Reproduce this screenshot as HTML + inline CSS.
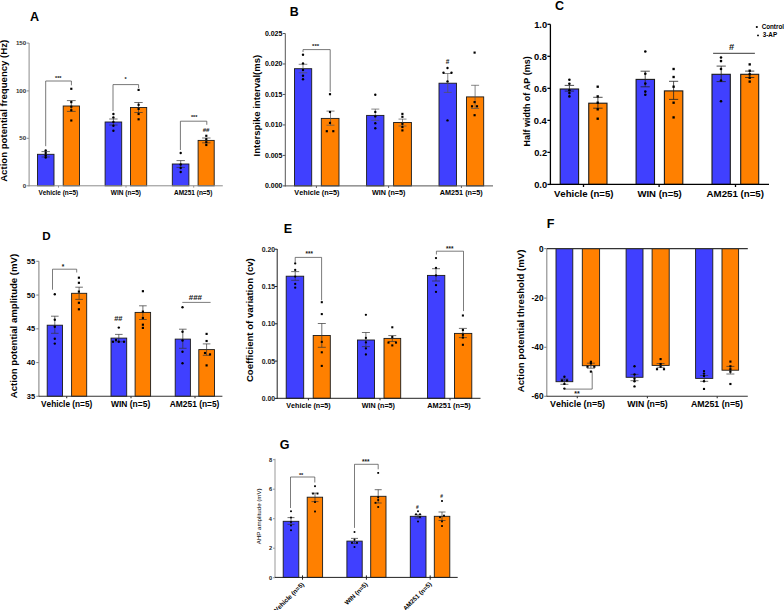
<!DOCTYPE html>
<html><head><meta charset="utf-8"><style>
html,body{margin:0;padding:0;background:#fff;}
svg{display:block;font-family:"Liberation Sans", sans-serif;font-kerning:none;}
</style></head><body>
<svg width="784" height="610" viewBox="0 0 784 610">
<rect width="784" height="610" fill="#fff"/>
<rect x="37.5" y="154.3" width="16.5" height="31.5" fill="#4040ff" stroke="#1a1a1a" stroke-width="0.9"/>
<rect x="63.2" y="106" width="16.3" height="79.8" fill="#ff8000" stroke="#1a1a1a" stroke-width="0.9"/>
<rect x="105.1" y="122" width="16.6" height="63.8" fill="#4040ff" stroke="#1a1a1a" stroke-width="0.9"/>
<rect x="130.5" y="107.5" width="16.2" height="78.3" fill="#ff8000" stroke="#1a1a1a" stroke-width="0.9"/>
<rect x="172.3" y="164" width="16.6" height="21.8" fill="#4040ff" stroke="#1a1a1a" stroke-width="0.9"/>
<rect x="198.1" y="140.4" width="16.1" height="45.4" fill="#ff8000" stroke="#1a1a1a" stroke-width="0.9"/>
<line x1="45.7" y1="151.6" x2="45.7" y2="157" stroke="#333" stroke-width="0.7"/>
<line x1="41.5" y1="151.6" x2="49.9" y2="151.6" stroke="#333" stroke-width="0.7"/>
<line x1="41.5" y1="157" x2="49.9" y2="157" stroke="#333" stroke-width="0.7"/>
<line x1="71.3" y1="100.6" x2="71.3" y2="111.4" stroke="#333" stroke-width="0.7"/>
<line x1="66.9" y1="100.6" x2="75.7" y2="100.6" stroke="#333" stroke-width="0.7"/>
<line x1="66.9" y1="111.4" x2="75.7" y2="111.4" stroke="#333" stroke-width="0.7"/>
<line x1="113.4" y1="119" x2="113.4" y2="125" stroke="#333" stroke-width="0.7"/>
<line x1="109.2" y1="119" x2="117.6" y2="119" stroke="#333" stroke-width="0.7"/>
<line x1="109.2" y1="125" x2="117.6" y2="125" stroke="#333" stroke-width="0.7"/>
<line x1="138.5" y1="102.5" x2="138.5" y2="112.5" stroke="#333" stroke-width="0.7"/>
<line x1="134.3" y1="102.5" x2="142.7" y2="102.5" stroke="#333" stroke-width="0.7"/>
<line x1="134.3" y1="112.5" x2="142.7" y2="112.5" stroke="#333" stroke-width="0.7"/>
<line x1="180.7" y1="160.6" x2="180.7" y2="167.4" stroke="#333" stroke-width="0.7"/>
<line x1="176.5" y1="160.6" x2="184.9" y2="160.6" stroke="#333" stroke-width="0.7"/>
<line x1="176.5" y1="167.4" x2="184.9" y2="167.4" stroke="#333" stroke-width="0.7"/>
<line x1="206.3" y1="138" x2="206.3" y2="142.8" stroke="#333" stroke-width="0.7"/>
<line x1="202.1" y1="138" x2="210.5" y2="138" stroke="#333" stroke-width="0.7"/>
<line x1="202.1" y1="142.8" x2="210.5" y2="142.8" stroke="#333" stroke-width="0.7"/>
<circle cx="45.7" cy="150.5" r="1.2" fill="#000"/>
<circle cx="45.7" cy="153" r="1.2" fill="#000"/>
<circle cx="45.7" cy="155.5" r="1.2" fill="#000"/>
<circle cx="45.7" cy="157.5" r="1.2" fill="#000"/>
<rect x="70.22" y="87.72" width="2.16" height="2.16" fill="#000"/>
<rect x="70.22" y="101.02" width="2.16" height="2.16" fill="#000"/>
<rect x="70.22" y="105.62" width="2.16" height="2.16" fill="#000"/>
<rect x="70.22" y="109.12" width="2.16" height="2.16" fill="#000"/>
<rect x="70.22" y="119.42" width="2.16" height="2.16" fill="#000"/>
<circle cx="113.4" cy="114" r="1.2" fill="#000"/>
<circle cx="113.4" cy="117.5" r="1.2" fill="#000"/>
<circle cx="113.4" cy="121.9" r="1.2" fill="#000"/>
<circle cx="113.4" cy="125.8" r="1.2" fill="#000"/>
<circle cx="113.4" cy="130.7" r="1.2" fill="#000"/>
<rect x="137.52" y="88.82" width="2.16" height="2.16" fill="#000"/>
<rect x="137.52" y="103.72" width="2.16" height="2.16" fill="#000"/>
<rect x="137.52" y="107.82" width="2.16" height="2.16" fill="#000"/>
<rect x="137.52" y="112.92" width="2.16" height="2.16" fill="#000"/>
<rect x="137.52" y="118.22" width="2.16" height="2.16" fill="#000"/>
<circle cx="180.7" cy="153" r="1.2" fill="#000"/>
<circle cx="180.7" cy="164.5" r="1.2" fill="#000"/>
<circle cx="180.7" cy="168" r="1.2" fill="#000"/>
<circle cx="180.7" cy="172" r="1.2" fill="#000"/>
<rect x="205.22" y="134.72" width="2.16" height="2.16" fill="#000"/>
<rect x="205.22" y="138.12" width="2.16" height="2.16" fill="#000"/>
<rect x="205.22" y="141.12" width="2.16" height="2.16" fill="#000"/>
<rect x="205.22" y="143.92" width="2.16" height="2.16" fill="#000"/>
<line x1="29.1" y1="43" x2="29.1" y2="186.3" stroke="#8c8c8c" stroke-width="1"/>
<line x1="28.6" y1="185.8" x2="222.8" y2="185.8" stroke="#8c8c8c" stroke-width="1"/>
<line x1="26.6" y1="185.8" x2="29.1" y2="185.8" stroke="#8c8c8c" stroke-width="1"/>
<text x="22.81" y="187.96" font-size="6.2" font-weight="bold" fill="#333">0</text>
<line x1="26.6" y1="138.3" x2="29.1" y2="138.3" stroke="#8c8c8c" stroke-width="1"/>
<text x="19.36" y="140.46" font-size="6.2" font-weight="bold" fill="#333">50</text>
<line x1="26.6" y1="90.9" x2="29.1" y2="90.9" stroke="#8c8c8c" stroke-width="1"/>
<text x="15.91" y="93.06" font-size="6.2" font-weight="bold" fill="#333">100</text>
<line x1="26.6" y1="43.1" x2="29.1" y2="43.1" stroke="#8c8c8c" stroke-width="1"/>
<text x="15.91" y="45.26" font-size="6.2" font-weight="bold" fill="#333">150</text>
<line x1="58.5" y1="185.8" x2="58.5" y2="187.6" stroke="#8c8c8c" stroke-width="1"/>
<line x1="126" y1="185.8" x2="126" y2="187.6" stroke="#8c8c8c" stroke-width="1"/>
<line x1="193.7" y1="185.8" x2="193.7" y2="187.6" stroke="#8c8c8c" stroke-width="1"/>
<text x="38.46" y="194.7" font-size="6.3" font-weight="bold" fill="#000" textLength="39.76" lengthAdjust="spacingAndGlyphs">Vehicle (n=5)</text>
<text x="110.89" y="194.7" font-size="6.3" font-weight="bold" fill="#000" textLength="30.12" lengthAdjust="spacingAndGlyphs">WIN (n=5)</text>
<text x="174.04" y="194.7" font-size="6.3" font-weight="bold" fill="#000" textLength="38.37" lengthAdjust="spacingAndGlyphs">AM251 (n=5)</text>
<text x="0" y="0" transform="translate(7.2 181.84) rotate(-90)" font-size="9.6" font-weight="bold" fill="#000" textLength="142.12" lengthAdjust="spacingAndGlyphs">Action potential frequency (Hz)</text>
<polyline points="45.7,146.2 45.7,81 71.4,81 71.4,85.3" fill="none" stroke="#555" stroke-width="0.8"/>
<polyline points="113,111 113,84.6 138.6,84.6 138.6,88" fill="none" stroke="#555" stroke-width="0.8"/>
<polyline points="180.4,150 180.4,121.2 206.8,121.2 206.8,124.8" fill="none" stroke="#555" stroke-width="0.8"/>
<text x="55.08" y="79.89" font-size="5.5" font-weight="bold" fill="#111">***</text>
<text x="124.62" y="80.59" font-size="5.5" font-weight="bold" fill="#111">*</text>
<text x="190.98" y="119.49" font-size="5.5" font-weight="bold" fill="#111">***</text>
<text x="202.65" y="131.51" font-size="6.2" font-weight="bold" fill="#111">##</text>
<text x="29.99" y="21.2" font-size="12.6" font-weight="bold" fill="#000">A</text>
<rect x="294.5" y="68.7" width="17.2" height="117.2" fill="#4040ff" stroke="#1a1a1a" stroke-width="0.9"/>
<rect x="321.3" y="118.4" width="17.7" height="67.5" fill="#ff8000" stroke="#1a1a1a" stroke-width="0.9"/>
<rect x="366.6" y="115.4" width="17.3" height="70.5" fill="#4040ff" stroke="#1a1a1a" stroke-width="0.9"/>
<rect x="393.6" y="122.5" width="17.8" height="63.4" fill="#ff8000" stroke="#1a1a1a" stroke-width="0.9"/>
<rect x="439" y="83.2" width="17.5" height="102.7" fill="#4040ff" stroke="#1a1a1a" stroke-width="0.9"/>
<rect x="466.5" y="96.9" width="17.2" height="89" fill="#ff8000" stroke="#1a1a1a" stroke-width="0.9"/>
<line x1="303" y1="64.3" x2="303" y2="72.8" stroke="#555" stroke-width="0.7"/>
<line x1="298.7" y1="64.3" x2="307.3" y2="64.3" stroke="#555" stroke-width="0.7"/>
<line x1="298.7" y1="72.8" x2="307.3" y2="72.8" stroke="#555" stroke-width="0.7"/>
<line x1="330.5" y1="111.1" x2="330.5" y2="125.2" stroke="#555" stroke-width="0.7"/>
<line x1="326.5" y1="111.1" x2="334.5" y2="111.1" stroke="#555" stroke-width="0.7"/>
<line x1="326.5" y1="125.2" x2="334.5" y2="125.2" stroke="#555" stroke-width="0.7"/>
<line x1="375.3" y1="109.1" x2="375.3" y2="120.3" stroke="#555" stroke-width="0.7"/>
<line x1="371.3" y1="109.1" x2="379.3" y2="109.1" stroke="#555" stroke-width="0.7"/>
<line x1="371.3" y1="120.3" x2="379.3" y2="120.3" stroke="#555" stroke-width="0.7"/>
<line x1="402.5" y1="119.1" x2="402.5" y2="126" stroke="#555" stroke-width="0.7"/>
<line x1="398.5" y1="119.1" x2="406.5" y2="119.1" stroke="#555" stroke-width="0.7"/>
<line x1="398.5" y1="126" x2="406.5" y2="126" stroke="#555" stroke-width="0.7"/>
<line x1="447.75" y1="73.5" x2="447.75" y2="92.4" stroke="#555" stroke-width="0.7"/>
<line x1="443.75" y1="73.5" x2="451.75" y2="73.5" stroke="#555" stroke-width="0.7"/>
<line x1="443.75" y1="92.4" x2="451.75" y2="92.4" stroke="#555" stroke-width="0.7"/>
<line x1="475.1" y1="85.3" x2="475.1" y2="108.5" stroke="#555" stroke-width="0.7"/>
<line x1="471.1" y1="85.3" x2="479.1" y2="85.3" stroke="#555" stroke-width="0.7"/>
<line x1="471.1" y1="108.5" x2="479.1" y2="108.5" stroke="#555" stroke-width="0.7"/>
<circle cx="303" cy="54.8" r="1.2" fill="#000"/>
<circle cx="303" cy="63.4" r="1.2" fill="#000"/>
<circle cx="303" cy="69.9" r="1.2" fill="#000"/>
<circle cx="303" cy="75.7" r="1.2" fill="#000"/>
<circle cx="303" cy="79.2" r="1.2" fill="#000"/>
<rect x="328.92" y="93.12" width="2.16" height="2.16" fill="#000"/>
<rect x="328.92" y="110.92" width="2.16" height="2.16" fill="#000"/>
<rect x="328.92" y="121.82" width="2.16" height="2.16" fill="#000"/>
<rect x="325.72" y="130.12" width="2.16" height="2.16" fill="#000"/>
<rect x="332.22" y="130.12" width="2.16" height="2.16" fill="#000"/>
<circle cx="375.3" cy="94.8" r="1.2" fill="#000"/>
<circle cx="375.3" cy="111.9" r="1.2" fill="#000"/>
<circle cx="375.3" cy="116.4" r="1.2" fill="#000"/>
<circle cx="375.3" cy="123.3" r="1.2" fill="#000"/>
<circle cx="375.3" cy="128.2" r="1.2" fill="#000"/>
<rect x="401.32" y="112.82" width="2.16" height="2.16" fill="#000"/>
<rect x="401.32" y="115.72" width="2.16" height="2.16" fill="#000"/>
<rect x="401.32" y="122.72" width="2.16" height="2.16" fill="#000"/>
<rect x="401.32" y="125.92" width="2.16" height="2.16" fill="#000"/>
<rect x="401.32" y="129.32" width="2.16" height="2.16" fill="#000"/>
<circle cx="447.5" cy="68" r="1.2" fill="#000"/>
<circle cx="443.5" cy="72.7" r="1.2" fill="#000"/>
<circle cx="451.5" cy="72.7" r="1.2" fill="#000"/>
<circle cx="447.5" cy="81.4" r="1.2" fill="#000"/>
<circle cx="447.5" cy="120.4" r="1.2" fill="#000"/>
<rect x="473.52" y="51.52" width="2.16" height="2.16" fill="#000"/>
<rect x="473.52" y="101.02" width="2.16" height="2.16" fill="#000"/>
<rect x="470.92" y="105.22" width="2.16" height="2.16" fill="#000"/>
<rect x="475.92" y="105.22" width="2.16" height="2.16" fill="#000"/>
<rect x="473.52" y="114.12" width="2.16" height="2.16" fill="#000"/>
<line x1="285.3" y1="33.5" x2="285.3" y2="186.4" stroke="#555" stroke-width="1"/>
<line x1="284.8" y1="185.9" x2="493" y2="185.9" stroke="#555" stroke-width="1"/>
<line x1="282.8" y1="185.9" x2="285.3" y2="185.9" stroke="#555" stroke-width="1"/>
<text x="264.97" y="188.34" font-size="7" font-weight="bold" fill="#000">0.000</text>
<line x1="282.8" y1="155.42" x2="285.3" y2="155.42" stroke="#555" stroke-width="1"/>
<text x="264.88" y="157.86" font-size="7" font-weight="bold" fill="#000">0.005</text>
<line x1="282.8" y1="124.94" x2="285.3" y2="124.94" stroke="#555" stroke-width="1"/>
<text x="264.97" y="127.38" font-size="7" font-weight="bold" fill="#000">0.010</text>
<line x1="282.8" y1="94.46" x2="285.3" y2="94.46" stroke="#555" stroke-width="1"/>
<text x="264.88" y="96.9" font-size="7" font-weight="bold" fill="#000">0.015</text>
<line x1="282.8" y1="63.98" x2="285.3" y2="63.98" stroke="#555" stroke-width="1"/>
<text x="264.97" y="66.42" font-size="7" font-weight="bold" fill="#000">0.020</text>
<line x1="282.8" y1="33.5" x2="285.3" y2="33.5" stroke="#555" stroke-width="1"/>
<text x="264.88" y="35.94" font-size="7" font-weight="bold" fill="#000">0.025</text>
<line x1="316.4" y1="185.9" x2="316.4" y2="187.9" stroke="#555" stroke-width="1"/>
<line x1="388.6" y1="185.9" x2="388.6" y2="187.9" stroke="#555" stroke-width="1"/>
<line x1="461.4" y1="185.9" x2="461.4" y2="187.9" stroke="#555" stroke-width="1"/>
<text x="294.35" y="194.7" font-size="7.2" font-weight="bold" fill="#000" textLength="45.01" lengthAdjust="spacingAndGlyphs">Vehicle (n=5)</text>
<text x="372.09" y="194.7" font-size="7.2" font-weight="bold" fill="#000" textLength="33.27" lengthAdjust="spacingAndGlyphs">WIN (n=5)</text>
<text x="439.82" y="194.7" font-size="7.2" font-weight="bold" fill="#000" textLength="42.84" lengthAdjust="spacingAndGlyphs">AM251 (n=5)</text>
<text x="0" y="0" transform="translate(259.5 156.44) rotate(-90)" font-size="9.5" font-weight="bold" fill="#000" textLength="101.61" lengthAdjust="spacingAndGlyphs">Interspike interval(ms)</text>
<polyline points="303,52 303,49.6 330.2,49.6 330.2,91.8" fill="none" stroke="#555" stroke-width="0.8"/>
<text x="312.09" y="48.06" font-size="6" font-weight="bold" fill="#111">***</text>
<text x="445.69" y="63.71" font-size="6.5" font-weight="bold" fill="#111">#</text>
<text x="289.67" y="16.4" font-size="12.4" font-weight="bold" fill="#000">B</text>
<rect x="560.2" y="89" width="18.4" height="95.4" fill="#4040ff" stroke="#1a1a1a" stroke-width="1.1"/>
<rect x="588.75" y="103.2" width="18.25" height="81.2" fill="#ff8000" stroke="#1a1a1a" stroke-width="1.1"/>
<rect x="636.1" y="79.4" width="18.4" height="105" fill="#4040ff" stroke="#1a1a1a" stroke-width="1.1"/>
<rect x="664.4" y="90.9" width="18.4" height="93.5" fill="#ff8000" stroke="#1a1a1a" stroke-width="1.1"/>
<rect x="712" y="74.3" width="18.3" height="110.1" fill="#4040ff" stroke="#1a1a1a" stroke-width="1.1"/>
<rect x="740.7" y="74.3" width="18" height="110.1" fill="#ff8000" stroke="#1a1a1a" stroke-width="1.1"/>
<line x1="569.4" y1="85.4" x2="569.4" y2="91.1" stroke="#222" stroke-width="0.8"/>
<line x1="564.7" y1="85.4" x2="574.1" y2="85.4" stroke="#222" stroke-width="0.8"/>
<line x1="564.7" y1="91.1" x2="574.1" y2="91.1" stroke="#222" stroke-width="0.8"/>
<line x1="597.9" y1="97.3" x2="597.9" y2="108.2" stroke="#222" stroke-width="0.8"/>
<line x1="593.2" y1="97.3" x2="602.6" y2="97.3" stroke="#222" stroke-width="0.8"/>
<line x1="593.2" y1="108.2" x2="602.6" y2="108.2" stroke="#222" stroke-width="0.8"/>
<line x1="645.2" y1="71.2" x2="645.2" y2="86.8" stroke="#222" stroke-width="0.8"/>
<line x1="640.6" y1="71.2" x2="649.8" y2="71.2" stroke="#222" stroke-width="0.8"/>
<line x1="640.6" y1="86.8" x2="649.8" y2="86.8" stroke="#222" stroke-width="0.8"/>
<line x1="673.6" y1="81.3" x2="673.6" y2="99.4" stroke="#222" stroke-width="0.8"/>
<line x1="669" y1="81.3" x2="678.2" y2="81.3" stroke="#222" stroke-width="0.8"/>
<line x1="669" y1="99.4" x2="678.2" y2="99.4" stroke="#222" stroke-width="0.8"/>
<line x1="721.2" y1="66.1" x2="721.2" y2="81.6" stroke="#222" stroke-width="0.8"/>
<line x1="716.6" y1="66.1" x2="725.8" y2="66.1" stroke="#222" stroke-width="0.8"/>
<line x1="716.6" y1="81.6" x2="725.8" y2="81.6" stroke="#222" stroke-width="0.8"/>
<line x1="749.7" y1="71.1" x2="749.7" y2="77.5" stroke="#222" stroke-width="0.8"/>
<line x1="745.1" y1="71.1" x2="754.3" y2="71.1" stroke="#222" stroke-width="0.8"/>
<line x1="745.1" y1="77.5" x2="754.3" y2="77.5" stroke="#222" stroke-width="0.8"/>
<circle cx="569.4" cy="79.8" r="1.3" fill="#000"/>
<circle cx="569.4" cy="83.8" r="1.3" fill="#000"/>
<circle cx="569.4" cy="90.2" r="1.3" fill="#000"/>
<circle cx="569.4" cy="93.1" r="1.3" fill="#000"/>
<circle cx="569.4" cy="96.4" r="1.3" fill="#000"/>
<rect x="596.53" y="85.53" width="2.34" height="2.34" fill="#000"/>
<rect x="596.53" y="95.23" width="2.34" height="2.34" fill="#000"/>
<rect x="596.53" y="101.53" width="2.34" height="2.34" fill="#000"/>
<rect x="596.53" y="108.13" width="2.34" height="2.34" fill="#000"/>
<rect x="596.53" y="117.53" width="2.34" height="2.34" fill="#000"/>
<circle cx="645.3" cy="51.5" r="1.3" fill="#000"/>
<circle cx="645.3" cy="73.8" r="1.3" fill="#000"/>
<circle cx="645.3" cy="83.6" r="1.3" fill="#000"/>
<circle cx="645.3" cy="91.6" r="1.3" fill="#000"/>
<circle cx="645.3" cy="94.8" r="1.3" fill="#000"/>
<rect x="672.43" y="67.83" width="2.34" height="2.34" fill="#000"/>
<rect x="672.43" y="75.83" width="2.34" height="2.34" fill="#000"/>
<rect x="672.43" y="85.53" width="2.34" height="2.34" fill="#000"/>
<rect x="672.43" y="101.53" width="2.34" height="2.34" fill="#000"/>
<rect x="672.43" y="116.23" width="2.34" height="2.34" fill="#000"/>
<circle cx="721" cy="57.5" r="1.3" fill="#000"/>
<circle cx="721" cy="61.1" r="1.3" fill="#000"/>
<circle cx="721" cy="69" r="1.3" fill="#000"/>
<circle cx="721" cy="80.5" r="1.3" fill="#000"/>
<circle cx="721" cy="101.3" r="1.3" fill="#000"/>
<rect x="748.53" y="63.23" width="2.34" height="2.34" fill="#000"/>
<rect x="748.53" y="69.53" width="2.34" height="2.34" fill="#000"/>
<rect x="748.53" y="73.13" width="2.34" height="2.34" fill="#000"/>
<rect x="748.53" y="76.63" width="2.34" height="2.34" fill="#000"/>
<rect x="748.53" y="80.43" width="2.34" height="2.34" fill="#000"/>
<line x1="550.4" y1="24.3" x2="550.4" y2="185.05" stroke="#000" stroke-width="1.3"/>
<line x1="549.75" y1="184.4" x2="769" y2="184.4" stroke="#000" stroke-width="1.3"/>
<line x1="547.4" y1="184.4" x2="550.4" y2="184.4" stroke="#000" stroke-width="1.3"/>
<text x="534.15" y="187.65" font-size="9.3" font-weight="bold" fill="#000">0.0</text>
<line x1="547.4" y1="152.38" x2="550.4" y2="152.38" stroke="#000" stroke-width="1.3"/>
<text x="534.14" y="155.63" font-size="9.3" font-weight="bold" fill="#000">0.2</text>
<line x1="547.4" y1="120.36" x2="550.4" y2="120.36" stroke="#000" stroke-width="1.3"/>
<text x="533.82" y="123.61" font-size="9.3" font-weight="bold" fill="#000">0.4</text>
<line x1="547.4" y1="88.34" x2="550.4" y2="88.34" stroke="#000" stroke-width="1.3"/>
<text x="534.11" y="91.59" font-size="9.3" font-weight="bold" fill="#000">0.6</text>
<line x1="547.4" y1="56.32" x2="550.4" y2="56.32" stroke="#000" stroke-width="1.3"/>
<text x="534.06" y="59.57" font-size="9.3" font-weight="bold" fill="#000">0.8</text>
<line x1="547.4" y1="24.3" x2="550.4" y2="24.3" stroke="#000" stroke-width="1.3"/>
<text x="534.15" y="27.55" font-size="9.3" font-weight="bold" fill="#000">1.0</text>
<line x1="583.5" y1="184.4" x2="583.5" y2="187" stroke="#000" stroke-width="1.3"/>
<line x1="659.1" y1="184.4" x2="659.1" y2="187" stroke="#000" stroke-width="1.3"/>
<line x1="735.5" y1="184.4" x2="735.5" y2="187" stroke="#000" stroke-width="1.3"/>
<text x="553.93" y="196.8" font-size="9.6" font-weight="bold" fill="#000" textLength="59.54" lengthAdjust="spacingAndGlyphs">Vehicle (n=5)</text>
<text x="637.39" y="196.8" font-size="9.6" font-weight="bold" fill="#000" textLength="44.39" lengthAdjust="spacingAndGlyphs">WIN (n=5)</text>
<text x="706.56" y="196.8" font-size="9.6" font-weight="bold" fill="#000" textLength="57.42" lengthAdjust="spacingAndGlyphs">AM251 (n=5)</text>
<text x="0" y="0" transform="translate(530 146.4) rotate(-90)" font-size="9" font-weight="bold" fill="#000" textLength="90.05" lengthAdjust="spacingAndGlyphs">Half width of AP (ms)</text>
<line x1="713.1" y1="53.3" x2="754.9" y2="53.3" stroke="#222" stroke-width="0.9"/>
<text x="728.91" y="49.57" font-size="9.3" font-weight="bold" fill="#111">#</text>
<text x="554.99" y="9.9" font-size="12.5" font-weight="bold" fill="#000">C</text>
<rect x="47.2" y="325.2" width="15.3" height="71.1" fill="#4040ff" stroke="#1a1a1a" stroke-width="0.9"/>
<rect x="71.6" y="293.3" width="15.1" height="103" fill="#ff8000" stroke="#1a1a1a" stroke-width="0.9"/>
<rect x="111" y="338.1" width="15.7" height="58.2" fill="#4040ff" stroke="#1a1a1a" stroke-width="0.9"/>
<rect x="135.1" y="312.4" width="15.5" height="83.9" fill="#ff8000" stroke="#1a1a1a" stroke-width="0.9"/>
<rect x="175.2" y="339.1" width="15.2" height="57.2" fill="#4040ff" stroke="#1a1a1a" stroke-width="0.9"/>
<rect x="198.8" y="349.6" width="15.7" height="46.7" fill="#ff8000" stroke="#1a1a1a" stroke-width="0.9"/>
<line x1="54.8" y1="316.2" x2="54.8" y2="333.3" stroke="#333" stroke-width="0.7"/>
<line x1="51" y1="316.2" x2="58.6" y2="316.2" stroke="#333" stroke-width="0.7"/>
<line x1="51" y1="333.3" x2="58.6" y2="333.3" stroke="#333" stroke-width="0.7"/>
<line x1="79.1" y1="287.2" x2="79.1" y2="299.4" stroke="#333" stroke-width="0.7"/>
<line x1="75.3" y1="287.2" x2="82.9" y2="287.2" stroke="#333" stroke-width="0.7"/>
<line x1="75.3" y1="299.4" x2="82.9" y2="299.4" stroke="#333" stroke-width="0.7"/>
<line x1="118.8" y1="334.4" x2="118.8" y2="341.8" stroke="#333" stroke-width="0.7"/>
<line x1="115" y1="334.4" x2="122.6" y2="334.4" stroke="#333" stroke-width="0.7"/>
<line x1="115" y1="341.8" x2="122.6" y2="341.8" stroke="#333" stroke-width="0.7"/>
<line x1="142.9" y1="305.8" x2="142.9" y2="319.5" stroke="#333" stroke-width="0.7"/>
<line x1="139.1" y1="305.8" x2="146.7" y2="305.8" stroke="#333" stroke-width="0.7"/>
<line x1="139.1" y1="319.5" x2="146.7" y2="319.5" stroke="#333" stroke-width="0.7"/>
<line x1="182.8" y1="329.2" x2="182.8" y2="348.3" stroke="#333" stroke-width="0.7"/>
<line x1="179" y1="329.2" x2="186.6" y2="329.2" stroke="#333" stroke-width="0.7"/>
<line x1="179" y1="348.3" x2="186.6" y2="348.3" stroke="#333" stroke-width="0.7"/>
<line x1="206.6" y1="343.9" x2="206.6" y2="355.3" stroke="#333" stroke-width="0.7"/>
<line x1="202.8" y1="343.9" x2="210.4" y2="343.9" stroke="#333" stroke-width="0.7"/>
<line x1="202.8" y1="355.3" x2="210.4" y2="355.3" stroke="#333" stroke-width="0.7"/>
<circle cx="54.8" cy="294.3" r="1.2" fill="#000"/>
<circle cx="54.8" cy="319.8" r="1.2" fill="#000"/>
<circle cx="54.8" cy="326.7" r="1.2" fill="#000"/>
<circle cx="54.8" cy="338.7" r="1.2" fill="#000"/>
<circle cx="54.8" cy="343.6" r="1.2" fill="#000"/>
<rect x="77.82" y="276.62" width="2.16" height="2.16" fill="#000"/>
<rect x="77.82" y="281.72" width="2.16" height="2.16" fill="#000"/>
<rect x="77.82" y="290.52" width="2.16" height="2.16" fill="#000"/>
<rect x="77.82" y="301.72" width="2.16" height="2.16" fill="#000"/>
<rect x="77.82" y="308.22" width="2.16" height="2.16" fill="#000"/>
<circle cx="118.8" cy="327.6" r="1.2" fill="#000"/>
<circle cx="113" cy="341.8" r="1.2" fill="#000"/>
<circle cx="118.8" cy="341.8" r="1.2" fill="#000"/>
<circle cx="124" cy="341.8" r="1.2" fill="#000"/>
<circle cx="116" cy="340" r="1.2" fill="#000"/>
<rect x="141.82" y="290.12" width="2.16" height="2.16" fill="#000"/>
<rect x="141.82" y="310.52" width="2.16" height="2.16" fill="#000"/>
<rect x="141.82" y="323.62" width="2.16" height="2.16" fill="#000"/>
<rect x="141.82" y="326.82" width="2.16" height="2.16" fill="#000"/>
<rect x="141.82" y="316.92" width="2.16" height="2.16" fill="#000"/>
<circle cx="182.5" cy="307.2" r="1.2" fill="#000"/>
<circle cx="182.5" cy="331.8" r="1.2" fill="#000"/>
<circle cx="182.5" cy="340.5" r="1.2" fill="#000"/>
<circle cx="182.5" cy="351.7" r="1.2" fill="#000"/>
<circle cx="182.5" cy="363.3" r="1.2" fill="#000"/>
<rect x="205.52" y="332.82" width="2.16" height="2.16" fill="#000"/>
<rect x="205.52" y="339.92" width="2.16" height="2.16" fill="#000"/>
<rect x="203.92" y="351.92" width="2.16" height="2.16" fill="#000"/>
<rect x="208.92" y="353.32" width="2.16" height="2.16" fill="#000"/>
<rect x="205.52" y="364.32" width="2.16" height="2.16" fill="#000"/>
<line x1="38.9" y1="261.2" x2="38.9" y2="396.85" stroke="#888" stroke-width="1.1"/>
<line x1="38.35" y1="396.3" x2="222.4" y2="396.3" stroke="#333" stroke-width="1.1"/>
<line x1="36.3" y1="396.3" x2="38.9" y2="396.3" stroke="#888" stroke-width="1.1"/>
<text x="26.77" y="398.92" font-size="7.5" font-weight="bold" fill="#000">35</text>
<line x1="36.3" y1="362.55" x2="38.9" y2="362.55" stroke="#888" stroke-width="1.1"/>
<text x="26.87" y="365.17" font-size="7.5" font-weight="bold" fill="#000">40</text>
<line x1="36.3" y1="328.8" x2="38.9" y2="328.8" stroke="#888" stroke-width="1.1"/>
<text x="26.77" y="331.42" font-size="7.5" font-weight="bold" fill="#000">45</text>
<line x1="36.3" y1="295.05" x2="38.9" y2="295.05" stroke="#888" stroke-width="1.1"/>
<text x="26.87" y="297.67" font-size="7.5" font-weight="bold" fill="#000">50</text>
<line x1="36.3" y1="261.3" x2="38.9" y2="261.3" stroke="#888" stroke-width="1.1"/>
<text x="26.77" y="263.92" font-size="7.5" font-weight="bold" fill="#000">55</text>
<line x1="66.7" y1="396.3" x2="66.7" y2="398.3" stroke="#333" stroke-width="1.1"/>
<line x1="131" y1="396.3" x2="131" y2="398.3" stroke="#333" stroke-width="1.1"/>
<line x1="195" y1="396.3" x2="195" y2="398.3" stroke="#333" stroke-width="1.1"/>
<text x="41.04" y="406.6" font-size="8.27" font-weight="bold" fill="#000" textLength="51.27" lengthAdjust="spacingAndGlyphs">Vehicle (n=5)</text>
<text x="110.99" y="406.6" font-size="8.27" font-weight="bold" fill="#000" textLength="39.22" lengthAdjust="spacingAndGlyphs">WIN (n=5)</text>
<text x="169.79" y="406.6" font-size="8.27" font-weight="bold" fill="#000" textLength="49.62" lengthAdjust="spacingAndGlyphs">AM251 (n=5)</text>
<text x="0" y="0" transform="translate(16.7 398.14) rotate(-90)" font-size="9.6" font-weight="bold" fill="#000" textLength="144.32" lengthAdjust="spacingAndGlyphs">Action potential amplitude (mV)</text>
<polyline points="52.5,289.7 52.5,269.2 76.7,269.2 76.7,272.5" fill="none" stroke="#444" stroke-width="0.7"/>
<line x1="182.3" y1="302.4" x2="210.6" y2="302.4" stroke="#444" stroke-width="0.7"/>
<text x="61.83" y="268.94" font-size="6.5" font-weight="bold" fill="#111">*</text>
<text x="114.13" y="320.75" font-size="7.5" font-weight="bold" fill="#111">##</text>
<text x="188.72" y="300.42" font-size="8" font-weight="bold" fill="#111">###</text>
<text x="42.22" y="239.7" font-size="11.6" font-weight="bold" fill="#000">D</text>
<rect x="286.2" y="276.2" width="17.5" height="122.1" fill="#4040ff" stroke="#1a1a1a" stroke-width="0.9"/>
<rect x="313.2" y="335.5" width="17.1" height="62.8" fill="#ff8000" stroke="#1a1a1a" stroke-width="0.9"/>
<rect x="357.5" y="340" width="17" height="58.3" fill="#4040ff" stroke="#1a1a1a" stroke-width="0.9"/>
<rect x="384" y="338.4" width="16.7" height="59.9" fill="#ff8000" stroke="#1a1a1a" stroke-width="0.9"/>
<rect x="427.5" y="275.4" width="17.3" height="122.9" fill="#4040ff" stroke="#1a1a1a" stroke-width="0.9"/>
<rect x="454.5" y="333.4" width="17.3" height="64.9" fill="#ff8000" stroke="#1a1a1a" stroke-width="0.9"/>
<line x1="295.2" y1="271.6" x2="295.2" y2="280.3" stroke="#333" stroke-width="0.7"/>
<line x1="291.2" y1="271.6" x2="299.2" y2="271.6" stroke="#333" stroke-width="0.7"/>
<line x1="291.2" y1="280.3" x2="299.2" y2="280.3" stroke="#333" stroke-width="0.7"/>
<line x1="321.8" y1="323.5" x2="321.8" y2="347.3" stroke="#333" stroke-width="0.7"/>
<line x1="317.8" y1="323.5" x2="325.8" y2="323.5" stroke="#333" stroke-width="0.7"/>
<line x1="317.8" y1="347.3" x2="325.8" y2="347.3" stroke="#333" stroke-width="0.7"/>
<line x1="365.9" y1="332.5" x2="365.9" y2="346.6" stroke="#333" stroke-width="0.7"/>
<line x1="361.9" y1="332.5" x2="369.9" y2="332.5" stroke="#333" stroke-width="0.7"/>
<line x1="361.9" y1="346.6" x2="369.9" y2="346.6" stroke="#333" stroke-width="0.7"/>
<line x1="392.3" y1="335.6" x2="392.3" y2="341.5" stroke="#333" stroke-width="0.7"/>
<line x1="388.3" y1="335.6" x2="396.3" y2="335.6" stroke="#333" stroke-width="0.7"/>
<line x1="388.3" y1="341.5" x2="396.3" y2="341.5" stroke="#333" stroke-width="0.7"/>
<line x1="436" y1="268.7" x2="436" y2="281" stroke="#333" stroke-width="0.7"/>
<line x1="432" y1="268.7" x2="440" y2="268.7" stroke="#333" stroke-width="0.7"/>
<line x1="432" y1="281" x2="440" y2="281" stroke="#333" stroke-width="0.7"/>
<line x1="462.9" y1="328.4" x2="462.9" y2="337.6" stroke="#333" stroke-width="0.7"/>
<line x1="458.9" y1="328.4" x2="466.9" y2="328.4" stroke="#333" stroke-width="0.7"/>
<line x1="458.9" y1="337.6" x2="466.9" y2="337.6" stroke="#333" stroke-width="0.7"/>
<circle cx="295.2" cy="263.4" r="1.15" fill="#000"/>
<circle cx="295.2" cy="270" r="1.15" fill="#000"/>
<circle cx="295.2" cy="276.6" r="1.15" fill="#000"/>
<circle cx="295.2" cy="283.9" r="1.15" fill="#000"/>
<circle cx="295.2" cy="287.7" r="1.15" fill="#000"/>
<rect x="320.76" y="301.16" width="2.07" height="2.07" fill="#000"/>
<rect x="320.76" y="313.06" width="2.07" height="2.07" fill="#000"/>
<rect x="320.76" y="340.86" width="2.07" height="2.07" fill="#000"/>
<rect x="320.76" y="351.26" width="2.07" height="2.07" fill="#000"/>
<rect x="320.76" y="364.86" width="2.07" height="2.07" fill="#000"/>
<circle cx="365.9" cy="314.8" r="1.15" fill="#000"/>
<circle cx="365.9" cy="337.9" r="1.15" fill="#000"/>
<circle cx="365.9" cy="342.4" r="1.15" fill="#000"/>
<circle cx="365.9" cy="348.4" r="1.15" fill="#000"/>
<circle cx="365.9" cy="354.5" r="1.15" fill="#000"/>
<rect x="391.26" y="326.26" width="2.07" height="2.07" fill="#000"/>
<rect x="391.26" y="335.96" width="2.07" height="2.07" fill="#000"/>
<rect x="387.46" y="341.56" width="2.07" height="2.07" fill="#000"/>
<rect x="391.26" y="344.36" width="2.07" height="2.07" fill="#000"/>
<rect x="394.96" y="341.56" width="2.07" height="2.07" fill="#000"/>
<circle cx="436" cy="258.1" r="1.15" fill="#000"/>
<circle cx="436" cy="267.9" r="1.15" fill="#000"/>
<circle cx="436" cy="275.4" r="1.15" fill="#000"/>
<circle cx="436" cy="285.2" r="1.15" fill="#000"/>
<circle cx="436" cy="291.9" r="1.15" fill="#000"/>
<rect x="461.86" y="314.46" width="2.07" height="2.07" fill="#000"/>
<rect x="461.86" y="328.96" width="2.07" height="2.07" fill="#000"/>
<rect x="461.86" y="333.76" width="2.07" height="2.07" fill="#000"/>
<rect x="461.86" y="336.56" width="2.07" height="2.07" fill="#000"/>
<rect x="461.86" y="343.76" width="2.07" height="2.07" fill="#000"/>
<line x1="277.2" y1="249" x2="277.2" y2="398.8" stroke="#222" stroke-width="1"/>
<line x1="276.7" y1="398.3" x2="480.5" y2="398.3" stroke="#222" stroke-width="1"/>
<line x1="274.7" y1="398.4" x2="277.2" y2="398.4" stroke="#222" stroke-width="1"/>
<text x="261.75" y="400.81" font-size="6.9" font-weight="bold" fill="#222">0.00</text>
<line x1="274.7" y1="361.1" x2="277.2" y2="361.1" stroke="#222" stroke-width="1"/>
<text x="261.66" y="363.51" font-size="6.9" font-weight="bold" fill="#222">0.05</text>
<line x1="274.7" y1="323.8" x2="277.2" y2="323.8" stroke="#222" stroke-width="1"/>
<text x="261.75" y="326.21" font-size="6.9" font-weight="bold" fill="#222">0.10</text>
<line x1="274.7" y1="286.5" x2="277.2" y2="286.5" stroke="#222" stroke-width="1"/>
<text x="261.66" y="288.91" font-size="6.9" font-weight="bold" fill="#222">0.15</text>
<line x1="274.7" y1="249.2" x2="277.2" y2="249.2" stroke="#222" stroke-width="1"/>
<text x="261.75" y="251.61" font-size="6.9" font-weight="bold" fill="#222">0.20</text>
<line x1="308.4" y1="398.3" x2="308.4" y2="400.3" stroke="#222" stroke-width="1"/>
<line x1="380" y1="398.3" x2="380" y2="400.3" stroke="#222" stroke-width="1"/>
<line x1="450" y1="398.3" x2="450" y2="400.3" stroke="#222" stroke-width="1"/>
<text x="286.35" y="407.5" font-size="7.16" font-weight="bold" fill="#000" textLength="44.41" lengthAdjust="spacingAndGlyphs">Vehicle (n=5)</text>
<text x="361.69" y="407.5" font-size="7.16" font-weight="bold" fill="#000" textLength="33.26" lengthAdjust="spacingAndGlyphs">WIN (n=5)</text>
<text x="427.32" y="407.5" font-size="7.16" font-weight="bold" fill="#000" textLength="43.43" lengthAdjust="spacingAndGlyphs">AM251 (n=5)</text>
<text x="0" y="0" transform="translate(252.8 382.09) rotate(-90)" font-size="9.6" font-weight="bold" fill="#000" textLength="123.87" lengthAdjust="spacingAndGlyphs">Coefficient of variation (cv)</text>
<polyline points="295.2,262 295.2,257.4 321.6,257.4 321.6,300.3" fill="none" stroke="#444" stroke-width="0.7"/>
<polyline points="436.4,254.5 436.4,251.2 463.5,251.2 463.5,311.1" fill="none" stroke="#444" stroke-width="0.7"/>
<text x="305.52" y="256.27" font-size="6.3" font-weight="bold" fill="#111">***</text>
<text x="446.12" y="250.57" font-size="6.3" font-weight="bold" fill="#111">***</text>
<text x="283.76" y="232.8" font-size="12.6" font-weight="bold" fill="#000">E</text>
<rect x="556" y="248.6" width="16.8" height="133.1" fill="#4040ff" stroke="#1a1a1a" stroke-width="0.9"/>
<rect x="582.3" y="248.6" width="17.3" height="117.1" fill="#ff8000" stroke="#1a1a1a" stroke-width="0.9"/>
<rect x="626.1" y="248.6" width="16.9" height="128.7" fill="#4040ff" stroke="#1a1a1a" stroke-width="0.9"/>
<rect x="652.1" y="248.6" width="17.1" height="116.8" fill="#ff8000" stroke="#1a1a1a" stroke-width="0.9"/>
<rect x="695.6" y="248.6" width="17.2" height="129.8" fill="#4040ff" stroke="#1a1a1a" stroke-width="0.9"/>
<rect x="722" y="248.6" width="16.6" height="121.6" fill="#ff8000" stroke="#1a1a1a" stroke-width="0.9"/>
<line x1="564.4" y1="379" x2="564.4" y2="384.3" stroke="#333" stroke-width="0.7"/>
<line x1="560.4" y1="379" x2="568.4" y2="379" stroke="#333" stroke-width="0.7"/>
<line x1="560.4" y1="384.3" x2="568.4" y2="384.3" stroke="#333" stroke-width="0.7"/>
<line x1="590.9" y1="363.2" x2="590.9" y2="368.2" stroke="#333" stroke-width="0.7"/>
<line x1="586.9" y1="363.2" x2="594.9" y2="363.2" stroke="#333" stroke-width="0.7"/>
<line x1="586.9" y1="368.2" x2="594.9" y2="368.2" stroke="#333" stroke-width="0.7"/>
<line x1="634.5" y1="374.4" x2="634.5" y2="380.7" stroke="#333" stroke-width="0.7"/>
<line x1="630.5" y1="374.4" x2="638.5" y2="374.4" stroke="#333" stroke-width="0.7"/>
<line x1="630.5" y1="380.7" x2="638.5" y2="380.7" stroke="#333" stroke-width="0.7"/>
<line x1="660.6" y1="363.5" x2="660.6" y2="367.3" stroke="#333" stroke-width="0.7"/>
<line x1="656.6" y1="363.5" x2="664.6" y2="363.5" stroke="#333" stroke-width="0.7"/>
<line x1="656.6" y1="367.3" x2="664.6" y2="367.3" stroke="#333" stroke-width="0.7"/>
<line x1="704.2" y1="375.5" x2="704.2" y2="381.3" stroke="#333" stroke-width="0.7"/>
<line x1="700.2" y1="375.5" x2="708.2" y2="375.5" stroke="#333" stroke-width="0.7"/>
<line x1="700.2" y1="381.3" x2="708.2" y2="381.3" stroke="#333" stroke-width="0.7"/>
<line x1="730.4" y1="366.4" x2="730.4" y2="374" stroke="#333" stroke-width="0.7"/>
<line x1="726.4" y1="366.4" x2="734.4" y2="366.4" stroke="#333" stroke-width="0.7"/>
<line x1="726.4" y1="374" x2="734.4" y2="374" stroke="#333" stroke-width="0.7"/>
<circle cx="564.4" cy="376.7" r="1.2" fill="#000"/>
<circle cx="562" cy="380.5" r="1.2" fill="#000"/>
<circle cx="567" cy="380.5" r="1.2" fill="#000"/>
<circle cx="564.4" cy="383.9" r="1.2" fill="#000"/>
<circle cx="564.4" cy="388.6" r="1.2" fill="#000"/>
<rect x="589.82" y="360.72" width="2.16" height="2.16" fill="#000"/>
<rect x="589.82" y="362.32" width="2.16" height="2.16" fill="#000"/>
<rect x="586.42" y="365.62" width="2.16" height="2.16" fill="#000"/>
<rect x="593.22" y="365.62" width="2.16" height="2.16" fill="#000"/>
<rect x="589.82" y="370.52" width="2.16" height="2.16" fill="#000"/>
<circle cx="634.5" cy="366.3" r="1.2" fill="#000"/>
<circle cx="634.5" cy="374.4" r="1.2" fill="#000"/>
<circle cx="634.5" cy="378.8" r="1.2" fill="#000"/>
<circle cx="634.5" cy="381.3" r="1.2" fill="#000"/>
<circle cx="634.5" cy="386.4" r="1.2" fill="#000"/>
<rect x="659.52" y="358.02" width="2.16" height="2.16" fill="#000"/>
<rect x="659.52" y="362.92" width="2.16" height="2.16" fill="#000"/>
<rect x="655.92" y="368.12" width="2.16" height="2.16" fill="#000"/>
<rect x="662.92" y="368.12" width="2.16" height="2.16" fill="#000"/>
<rect x="659.52" y="365.62" width="2.16" height="2.16" fill="#000"/>
<circle cx="704" cy="371.1" r="1.2" fill="#000"/>
<circle cx="704" cy="373.6" r="1.2" fill="#000"/>
<circle cx="704" cy="375.9" r="1.2" fill="#000"/>
<circle cx="704" cy="381.3" r="1.2" fill="#000"/>
<circle cx="704" cy="388.9" r="1.2" fill="#000"/>
<rect x="729.32" y="360.52" width="2.16" height="2.16" fill="#000"/>
<rect x="729.32" y="365.22" width="2.16" height="2.16" fill="#000"/>
<rect x="729.32" y="368.12" width="2.16" height="2.16" fill="#000"/>
<rect x="729.32" y="370.62" width="2.16" height="2.16" fill="#000"/>
<rect x="729.32" y="382.92" width="2.16" height="2.16" fill="#000"/>
<line x1="546.8" y1="248.6" x2="546.8" y2="396.85" stroke="#888" stroke-width="1.1"/>
<line x1="546.25" y1="396.3" x2="747.8" y2="396.3" stroke="#333" stroke-width="1.1"/>
<line x1="546.8" y1="248.6" x2="747.8" y2="248.6" stroke="#333" stroke-width="1.1"/>
<line x1="544.2" y1="396.3" x2="546.8" y2="396.3" stroke="#888" stroke-width="1.1"/>
<text x="531.54" y="399.2" font-size="8.3" font-weight="bold" fill="#000">-60</text>
<line x1="544.2" y1="347.3" x2="546.8" y2="347.3" stroke="#888" stroke-width="1.1"/>
<text x="531.54" y="350.2" font-size="8.3" font-weight="bold" fill="#000">-40</text>
<line x1="544.2" y1="298.1" x2="546.8" y2="298.1" stroke="#888" stroke-width="1.1"/>
<text x="531.54" y="301" font-size="8.3" font-weight="bold" fill="#000">-20</text>
<line x1="544.2" y1="248.6" x2="546.8" y2="248.6" stroke="#888" stroke-width="1.1"/>
<text x="538.92" y="251.5" font-size="8.3" font-weight="bold" fill="#000">0</text>
<line x1="577.3" y1="396.3" x2="577.3" y2="398.3" stroke="#333" stroke-width="1.1"/>
<line x1="647.4" y1="396.3" x2="647.4" y2="398.3" stroke="#333" stroke-width="1.1"/>
<line x1="717.2" y1="396.3" x2="717.2" y2="398.3" stroke="#333" stroke-width="1.1"/>
<text x="550.04" y="407.3" font-size="8.87" font-weight="bold" fill="#000" textLength="55" lengthAdjust="spacingAndGlyphs">Vehicle (n=5)</text>
<text x="627.29" y="407.3" font-size="8.87" font-weight="bold" fill="#000" textLength="40.45" lengthAdjust="spacingAndGlyphs">WIN (n=5)</text>
<text x="690.98" y="407.3" font-size="8.87" font-weight="bold" fill="#000" textLength="51.86" lengthAdjust="spacingAndGlyphs">AM251 (n=5)</text>
<text x="0" y="0" transform="translate(524.2 392.14) rotate(-90)" font-size="9.57" font-weight="bold" fill="#000" textLength="142.51" lengthAdjust="spacingAndGlyphs">Action potential threshold (mV)</text>
<polyline points="564.4,389.1 592.2,389.1 592.2,371.3" fill="none" stroke="#444" stroke-width="0.7"/>
<text x="574.27" y="395.91" font-size="7" font-weight="bold" fill="#111">**</text>
<text x="546.66" y="227.7" font-size="12.6" font-weight="bold" fill="#000">F</text>
<rect x="283.2" y="521.3" width="15.6" height="56.1" fill="#4040ff" stroke="#1a1a1a" stroke-width="0.9"/>
<rect x="307.2" y="497.2" width="15.4" height="80.2" fill="#ff8000" stroke="#1a1a1a" stroke-width="0.9"/>
<rect x="346.9" y="541.1" width="15.3" height="36.3" fill="#4040ff" stroke="#1a1a1a" stroke-width="0.9"/>
<rect x="370.7" y="496.3" width="15.3" height="81.1" fill="#ff8000" stroke="#1a1a1a" stroke-width="0.9"/>
<rect x="410.3" y="516.3" width="15.7" height="61.1" fill="#4040ff" stroke="#1a1a1a" stroke-width="0.9"/>
<rect x="434.3" y="516.3" width="15.5" height="61.1" fill="#ff8000" stroke="#1a1a1a" stroke-width="0.9"/>
<line x1="291" y1="517.6" x2="291" y2="524.4" stroke="#333" stroke-width="0.7"/>
<line x1="287.5" y1="517.6" x2="294.5" y2="517.6" stroke="#333" stroke-width="0.7"/>
<line x1="287.5" y1="524.4" x2="294.5" y2="524.4" stroke="#333" stroke-width="0.7"/>
<line x1="315" y1="493.1" x2="315" y2="501.6" stroke="#333" stroke-width="0.7"/>
<line x1="311.5" y1="493.1" x2="318.5" y2="493.1" stroke="#333" stroke-width="0.7"/>
<line x1="311.5" y1="501.6" x2="318.5" y2="501.6" stroke="#333" stroke-width="0.7"/>
<line x1="354.5" y1="538.4" x2="354.5" y2="543.5" stroke="#333" stroke-width="0.7"/>
<line x1="351" y1="538.4" x2="358" y2="538.4" stroke="#333" stroke-width="0.7"/>
<line x1="351" y1="543.5" x2="358" y2="543.5" stroke="#333" stroke-width="0.7"/>
<line x1="378.2" y1="489.7" x2="378.2" y2="503" stroke="#333" stroke-width="0.7"/>
<line x1="374.7" y1="489.7" x2="381.7" y2="489.7" stroke="#333" stroke-width="0.7"/>
<line x1="374.7" y1="503" x2="381.7" y2="503" stroke="#333" stroke-width="0.7"/>
<line x1="418" y1="514.8" x2="418" y2="518" stroke="#333" stroke-width="0.7"/>
<line x1="414.5" y1="514.8" x2="421.5" y2="514.8" stroke="#333" stroke-width="0.7"/>
<line x1="414.5" y1="518" x2="421.5" y2="518" stroke="#333" stroke-width="0.7"/>
<line x1="442" y1="512" x2="442" y2="520.5" stroke="#333" stroke-width="0.7"/>
<line x1="438.5" y1="512" x2="445.5" y2="512" stroke="#333" stroke-width="0.7"/>
<line x1="438.5" y1="520.5" x2="445.5" y2="520.5" stroke="#333" stroke-width="0.7"/>
<circle cx="291" cy="511.2" r="1" fill="#000"/>
<circle cx="291" cy="517.5" r="1" fill="#000"/>
<circle cx="291" cy="522" r="1" fill="#000"/>
<circle cx="291" cy="525.6" r="1" fill="#000"/>
<circle cx="291" cy="530.3" r="1" fill="#000"/>
<rect x="314.1" y="485.3" width="1.8" height="1.8" fill="#000"/>
<rect x="312.1" y="492.7" width="1.8" height="1.8" fill="#000"/>
<rect x="316.6" y="492.7" width="1.8" height="1.8" fill="#000"/>
<rect x="314.1" y="501.2" width="1.8" height="1.8" fill="#000"/>
<rect x="314.1" y="510.6" width="1.8" height="1.8" fill="#000"/>
<circle cx="354.5" cy="531.9" r="1" fill="#000"/>
<circle cx="354.5" cy="539.7" r="1" fill="#000"/>
<circle cx="352" cy="542.8" r="1" fill="#000"/>
<circle cx="357" cy="542.8" r="1" fill="#000"/>
<circle cx="354.5" cy="546.9" r="1" fill="#000"/>
<rect x="377.3" y="472" width="1.8" height="1.8" fill="#000"/>
<rect x="377.3" y="496.3" width="1.8" height="1.8" fill="#000"/>
<rect x="377.3" y="499.1" width="1.8" height="1.8" fill="#000"/>
<rect x="374.6" y="501.9" width="1.8" height="1.8" fill="#000"/>
<rect x="377.3" y="506.1" width="1.8" height="1.8" fill="#000"/>
<circle cx="418" cy="511.3" r="1" fill="#000"/>
<circle cx="420" cy="514.3" r="1" fill="#000"/>
<circle cx="420" cy="516.9" r="1" fill="#000"/>
<circle cx="418" cy="521.5" r="1" fill="#000"/>
<circle cx="416" cy="514.3" r="1" fill="#000"/>
<rect x="441.1" y="500.1" width="1.8" height="1.8" fill="#000"/>
<rect x="443.1" y="514.7" width="1.8" height="1.8" fill="#000"/>
<rect x="439.1" y="516.3" width="1.8" height="1.8" fill="#000"/>
<rect x="441.1" y="520.5" width="1.8" height="1.8" fill="#000"/>
<rect x="441.1" y="525.1" width="1.8" height="1.8" fill="#000"/>
<line x1="275" y1="458.8" x2="275" y2="577.9" stroke="#999" stroke-width="1"/>
<line x1="274.5" y1="577.4" x2="457.7" y2="577.4" stroke="#222" stroke-width="1"/>
<line x1="273" y1="577.7" x2="275" y2="577.7" stroke="#999" stroke-width="1"/>
<text x="269.06" y="579.69" font-size="5.7" font-weight="bold" fill="#222">0</text>
<line x1="273" y1="548.2" x2="275" y2="548.2" stroke="#999" stroke-width="1"/>
<text x="269.06" y="550.19" font-size="5.7" font-weight="bold" fill="#222">2</text>
<line x1="273" y1="518.7" x2="275" y2="518.7" stroke="#999" stroke-width="1"/>
<text x="268.86" y="520.69" font-size="5.7" font-weight="bold" fill="#222">4</text>
<line x1="273" y1="489.2" x2="275" y2="489.2" stroke="#999" stroke-width="1"/>
<text x="269.04" y="491.19" font-size="5.7" font-weight="bold" fill="#222">6</text>
<line x1="273" y1="459.7" x2="275" y2="459.7" stroke="#999" stroke-width="1"/>
<text x="269.01" y="461.69" font-size="5.7" font-weight="bold" fill="#222">8</text>
<line x1="302.5" y1="575.4" x2="302.5" y2="579.7" stroke="#222" stroke-width="1"/>
<line x1="366.4" y1="575.4" x2="366.4" y2="579.7" stroke="#222" stroke-width="1"/>
<line x1="430.2" y1="575.4" x2="430.2" y2="579.7" stroke="#222" stroke-width="1"/>
<text x="0" y="0" transform="translate(261.3 544.31) rotate(-90)" font-size="6.2" fill="#000" textLength="55.9" lengthAdjust="spacingAndGlyphs">AHP amplitude (mV)</text>
<polyline points="290.5,508 290.5,477 314.8,477 314.8,482.5" fill="none" stroke="#444" stroke-width="0.7"/>
<polyline points="354.5,527.9 354.5,464.3 378.2,464.3 378.2,469.3" fill="none" stroke="#444" stroke-width="0.7"/>
<text x="298.88" y="476.56" font-size="5.7" font-weight="bold" fill="#111">**</text>
<text x="361.96" y="464" font-size="6.4" font-weight="bold" fill="#111">***</text>
<text x="416.06" y="508.63" font-size="4.8" font-weight="bold" fill="#111">#</text>
<text x="440.36" y="498.13" font-size="4.8" font-weight="bold" fill="#111">#</text>
<text x="279.79" y="449.3" font-size="12.5" font-weight="bold" fill="#000">G</text>
<text x="0" y="0" transform="translate(304.4 584.9) rotate(-45)" font-size="6.3" font-weight="bold" fill="#000" text-anchor="end">Vehicle (n=5)</text>
<text x="0" y="0" transform="translate(368 584.7) rotate(-45)" font-size="6.3" font-weight="bold" fill="#000" text-anchor="end">WIN (n=5)</text>
<text x="0" y="0" transform="translate(432 584.6) rotate(-45)" font-size="6.3" font-weight="bold" fill="#000" text-anchor="end">AM251 (n=5)</text>
<rect x="755.9" y="26.1" width="1.8" height="1.8" fill="#000"/>
<text x="761.64" y="28.8" font-size="6.3" font-weight="bold" fill="#000">Control</text>
<circle cx="758" cy="35.4" r="0.95" fill="#000"/>
<text x="762.76" y="37.2" font-size="6.3" font-weight="bold" fill="#000">3-AP</text>
</svg>
</body></html>
